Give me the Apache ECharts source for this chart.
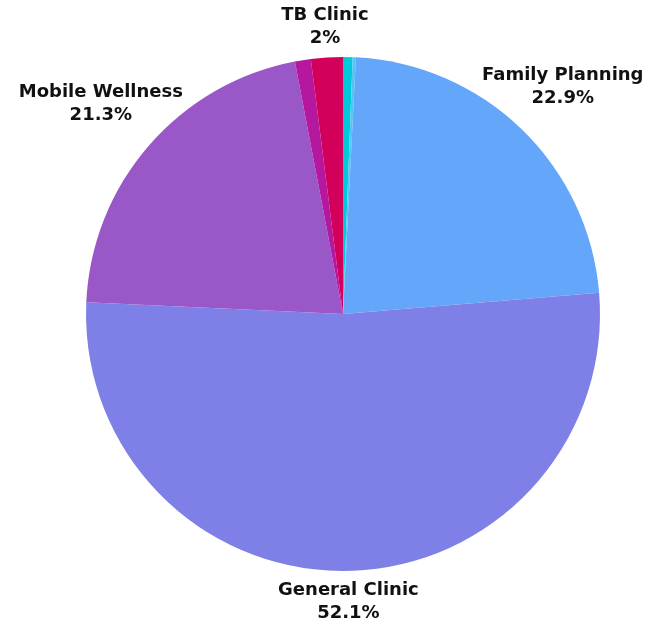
<!DOCTYPE html>
<html lang="en">
	<head>
		<meta charset="UTF-8">
		<title></title>
		<style type="text/css">
			html,
			body,
			.canvas {
				padding: 0;
				margin: 0;
				overflow: hidden;
				background-color: #ffffff;
				width: 100%;
				height: 100%;
			}
		</style>
	</head>
	<body>
		<div class="canvas" id="pieChart"></div>
		<script type="text/javascript" src="https://cdn.jsdelivr.net/npm/echarts@6/dist/echarts.min.js"></script>
		<script>
			// clockwise from 12 o'clock
			const clinics = ['Other A', 'Other B', 'Family Planning', 'General Clinic', 'Mobile Wellness', 'Other C', 'TB Clinic'];
			const shares = [0.6, 0.2, 22.9, 52.1, 21.3, 1.0, 2];
			const labelled = [false, false, true, true, true, false, true];
			const colors = ['#00c9da', '#52c6f2', '#64a6fa', '#7e80e7', '#9a57c8', '#b5179e', '#d3005b'];

			const CX = 343, CY = 314, R = 257, GAP = 8, K = 0.86;

			const total = shares.reduce((a, b) => a + b, 0);
			const midAngles = [];
			let acc = 0;
			shares.forEach(v => {
				midAngles.push((acc + v / 2) / total * Math.PI * 2);
				acc += v;
			});

			const chart = echarts.init(document.getElementById('pieChart'), null, { renderer: 'canvas' });

			chart.setOption({
				animation: false,
				color: colors,
				series: [{
					type: 'pie',
					center: [CX, CY],
					radius: R,
					startAngle: 90,
					clockwise: true,
					minAngle: 0,
					avoidLabelOverlap: false,
					label: {
						show: true,
						position: 'outside',
						formatter: p => p.name + '\n' + p.value + '%',
						fontFamily: 'DejaVu Sans',
						fontWeight: 'bold',
						fontSize: 18,
						lineHeight: 23,
						color: '#111111'
					},
					labelLine: { show: false },
					labelLayout: function (p) {
						if (!p.labelRect) return;
						const a = midAngles[p.dataIndex];
						const ux = Math.sin(a), uy = -Math.cos(a);
						const hw = p.labelRect.width / 2 * K, hh = p.labelRect.height / 2;
						const d = R + GAP + Math.sqrt(ux * hw * ux * hw + uy * hh * uy * hh);
						return { x: CX + ux * d, y: CY + uy * d, align: 'center', verticalAlign: 'middle' };
					},
					emphasis: { disabled: true },
					data: clinics.map((n, i) => ({
						name: n,
						value: shares[i],
						label: { show: labelled[i] }
					}))
				}]
			});
		</script>
	</body>
</html>
